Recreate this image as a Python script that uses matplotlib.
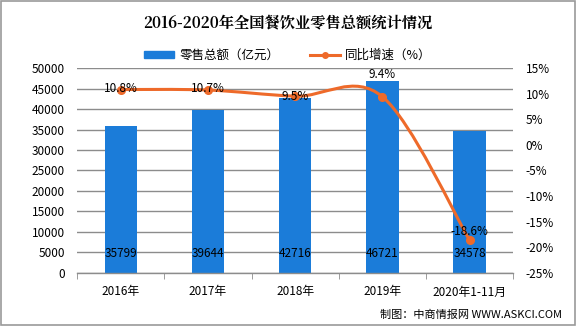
import matplotlib.pyplot as plt
from matplotlib.path import Path as MPath
from matplotlib.patches import PathPatch, Rectangle
from matplotlib.lines import Line2D
from matplotlib.patches import Patch

plt.rcParams['font.family'] = ['Noto Sans CJK SC', 'DejaVu Sans']

years = ["2016年", "2017年", "2018年", "2019年", "2020年1-11月"]
sales = [35799, 39644, 42716, 46721, 34578]      # 亿元
growth = [10.8, 10.7, 9.5, 9.4, -18.6]           # %
growth_label_dy = [1, 1, 0, 16, 6]               # label lift above the point, pt

BLUE = "#1B7CD9"
ORANGE = "#EE6A2A"
GRID = "#8C8C8C"

fig = plt.figure(figsize=(5.76, 3.26), dpi=100)
fig.patches.append(Rectangle((0.001, 0.002), 0.997, 0.995, transform=fig.transFigure,
                             fill=False, ec="#9A9A9A", lw=1.2))

ax = fig.add_axes([0.134, 0.1626, 0.757, 0.6288])
ax2 = ax.twinx()

x = list(range(len(years)))
ax.bar(x, sales, width=0.37, color=BLUE, zorder=2)
ax.set_xlim(-0.5, len(years) - 0.5)
ax.set_ylim(0, 50000)
ax.set_yticks(range(0, 50001, 5000))
ax.yaxis.grid(True, color=GRID, lw=1.0, zorder=0)
ax.set_axisbelow(True)
for s in ["top", "right", "left"]:
    ax.spines[s].set_visible(False)
ax.spines["bottom"].set_color(GRID)
ax.spines["bottom"].set_linewidth(1.0)

# category labels centered, tick marks on the boundaries
ax.set_xticks(x)
ax.set_xticklabels(years, fontsize=8.5)
ax.tick_params(axis="x", length=0, pad=9)
ax.set_xticks([i - 0.5 for i in range(len(years) + 1)], minor=True)
ax.tick_params(axis="x", which="minor", length=4, color=GRID, direction="out")
ax.tick_params(axis="y", length=0, pad=9, labelsize=8.5)

for xi, v in zip(x, sales):
    ax.annotate(f"{v}", (xi, 0), xytext=(0, 14), textcoords="offset points",
                ha="center", va="center", fontsize=8.5, zorder=5)

# smoothed growth line (cubic Bezier through the points)
ax2.set_ylim(-25, 15)
ax2.set_yticks(range(-25, 16, 5))
ax2.set_yticklabels([f"{t}%" for t in range(-25, 16, 5)])
ax2.tick_params(axis="y", length=0, pad=9, labelsize=8.5)
for s in ax2.spines.values():
    s.set_visible(False)

pts = list(zip(x, growth))
verts = [pts[0]]
codes = [MPath.MOVETO]
n = len(pts)
for i in range(n - 1):
    p0 = pts[max(i - 1, 0)]
    p1 = pts[i]
    p2 = pts[i + 1]
    p3 = pts[min(i + 2, n - 1)]
    c1 = (p1[0] + (p2[0] - p0[0]) / 6, p1[1] + (p2[1] - p0[1]) / 6)
    c2 = (p2[0] - (p3[0] - p1[0]) / 6, p2[1] - (p3[1] - p1[1]) / 6)
    verts += [c1, c2, p2]
    codes += [MPath.CURVE4] * 3
ax2.add_patch(PathPatch(MPath(verts, codes), fc="none", ec=ORANGE, lw=2.2, zorder=3))
ax2.plot(x, growth, "o", color=ORANGE, ms=5.5, zorder=4)
for xi, g, dy in zip(x, growth, growth_label_dy):
    ax2.annotate(f"{g}%", (xi, g), xytext=(0, dy), textcoords="offset points",
                 ha="center", va="center", fontsize=8.5, zorder=5)

fig.text(0.5, 0.93, "2016-2020年全国餐饮业零售总额统计情况", ha="center", va="center",
         fontsize=11, fontweight="bold", family=["Noto Serif CJK SC", "Noto Sans CJK SC"])

handles = [Patch(color=BLUE), Line2D([], [], color=ORANGE, lw=2.2, marker="o", ms=4)]
fig.legend(handles, ["零售总额（亿元）", "同比增速（%）"], loc="center",
           bbox_to_anchor=(0.5, 0.83), ncol=2, frameon=False, fontsize=9,
           handlelength=2.4, handleheight=0.6, columnspacing=2.5, handletextpad=0.4)

fig.text(0.975, 0.035, "制图：中商情报网 WWW.ASKCI.COM", ha="right", va="center", fontsize=8)

fig.savefig("out.png", dpi=100)
